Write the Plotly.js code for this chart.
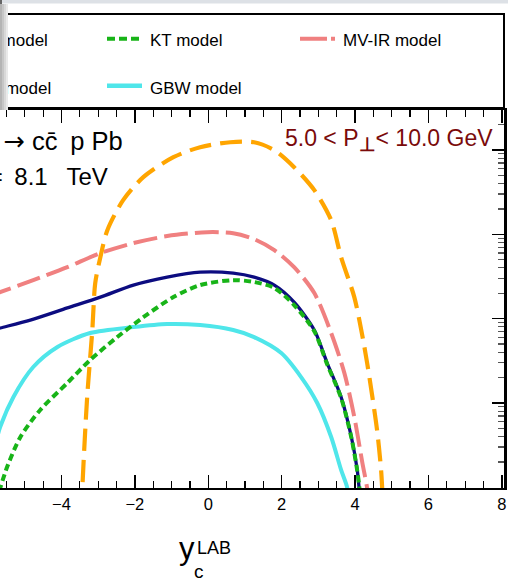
<!DOCTYPE html>
<html>
<head>
<meta charset="utf-8">
<script src="https://cdn.plot.ly/plotly-3.0.1.min.js"></script>
<style>html,body{margin:0;padding:0;background:#fff;}#chart{width:508px;height:580px;}</style>
</head>
<body>
<div id="chart"></div>
<script>
// ---- data ----
const xNavy = [-6.0, -5.67, -4.85, -3.84, -2.94, -2.04, -1.12, -0.22, 0.68, 1.25, 1.80, 2.34, 2.89, 3.24, 3.62, 3.90, 4.06, 4.11, 4.16];
const yNavy = [7.08, 7.74, 9.62, 13.4, 18.0, 25.0, 31.1, 35.6, 34.7, 31.1, 25.0, 15.7, 7.33, 2.98, 1.18, 0.395, 0.161, 0.098, 0.05];

const xKT = [-5.70, -5.48, -5.12, -4.58, -3.84, -3.22, -2.48, -1.77, -0.95, -0.22, 0.68, 1.25, 1.80, 2.34, 2.89, 3.24, 3.62, 3.90, 4.06, 4.12, 4.17];
const yKT = [0.089, 0.175, 0.395, 0.826, 1.73, 3.23, 6.05, 10.4, 18.0, 25.0, 28.6, 27.2, 23.1, 14.5, 7.08, 2.88, 1.15, 0.389, 0.158, 0.098, 0.05];

const xMVIR = [-6.0, -5.67, -4.77, -3.84, -2.94, -2.04, -1.12, -0.03, 0.68, 1.25, 1.80, 2.34, 2.89, 3.35, 3.71, 3.98, 4.20, 4.33, 4.40];
const yMVIR = [18.6, 20.7, 28.6, 40.8, 59.8, 78.7, 95.3, 106, 103, 87.7, 65.0, 40.8, 20.1, 6.75, 2.26, 0.682, 0.195, 0.098, 0.05];

const xGBW = [-5.95, -5.67, -5.31, -4.77, -4.11, -3.22, -2.04, -1.12, -0.22, 0.68, 1.25, 1.99, 2.53, 2.97, 3.35, 3.62, 3.79, 3.85];
const yGBW = [0.178, 0.52, 1.18, 2.67, 4.61, 6.75, 7.94, 8.63, 8.39, 7.33, 6.05, 3.91, 2.03, 1.0, 0.395, 0.161, 0.098, 0.05];

const xOrange = [-3.45, -3.43, -3.30, -3.16, -3.08, -2.94, -2.75, -2.32, -1.77, -0.95, -0.22, 0.60, 1.25, 1.80, 2.34, 2.89, 3.35, 3.62, 3.98, 4.17, 4.33, 4.60, 4.71, 4.74, 4.77];
const yOrange = [0.05, 0.101, 1.18, 7.33, 26.4, 53.7, 112, 254, 476, 822, 1079, 1236, 1236, 995, 625, 334, 147, 53.7, 18.0, 7.33, 2.98, 0.479, 0.161, 0.098, 0.05];

const xTickVals = [-4, -2, 0, 2, 4, 6, 8];
const legendNames = ["rcBK model", "KT model", "MV-IR model", "IP-Sat model", "GBW model"];
const processText = "p Pb <span style=\"font-family:DejaVu Sans\">\u2192</span> cc\u0304\u2002p Pb";
const energyText = "\u221As = \u20098.1\u2002\u2009\u200ATeV";
const ptText = "5.0 < P<sub><span style=\"font-size:19px\"><b>\u22A5</b></span></sub>< 10.0 GeV";

// ---- styling ----
const FONT = "Liberation Sans, Arial, Helvetica, sans-serif";
const C_NAVY = "#0c0c80", C_KT = "#18b418", C_MV = "#f08080", C_GBW = "#4fe6ea", C_OR = "#ffa500";

// plot area in pixels: x 0..504, y 110..488
const PX = p => p / 504;
const PY = p => (488 - p) / 378;

function tr(x, y, color, width, dash) {
  return {x: x, y: y, type: "scatter", mode: "lines", hoverinfo: "skip",
    line: {color: color, width: width, dash: dash, shape: "spline", smoothing: 0.8}};
}
const traces = [
  tr(xGBW, yGBW, C_GBW, 4, "solid"),
  tr(xMVIR, yMVIR, C_MV, 4, "24px,7px"),
  tr(xOrange, yOrange, C_OR, 4.2, "22px,9px"),
  tr(xNavy, yNavy, C_NAVY, 3.3, "solid"),
  tr(xKT, yKT, C_KT, 4, "7px,4px"),
];

const shapes = [
  {type: "rect", xref: "paper", yref: "paper", x0: PX(0), x1: PX(508), y0: PY(0), y1: PY(3.5), fillcolor: "#dde1e6", line: {width: 0}},
  {type: "rect", xref: "paper", yref: "paper", x0: PX(0), x1: PX(2), y0: PY(0), y1: PY(18), fillcolor: "#666666", line: {width: 0}},
  {type: "rect", xref: "paper", yref: "paper", x0: PX(-10), x1: PX(504), y0: PY(14), y1: PY(108), fillcolor: "rgba(0,0,0,0)", line: {color: "black", width: 2}},
  {type: "line", xref: "paper", yref: "paper", x0: PX(107), x1: PX(142), y0: PY(38.7), y1: PY(38.7), line: {color: C_KT, width: 4, dash: "8px,4px"}},
  {type: "line", xref: "paper", yref: "paper", x0: PX(300), x1: PX(335), y0: PY(38.7), y1: PY(38.7), line: {color: C_MV, width: 4, dash: "27px,4px"}},
  {type: "line", xref: "paper", yref: "paper", x0: PX(107), x1: PX(142), y0: PY(85.7), y1: PY(85.7), line: {color: C_GBW, width: 4.5}},
];

function txt(text, x, y, size, xanchor, color) {
  return {text: text, xref: "paper", yref: "paper", x: PX(x), y: PY(y), xanchor: xanchor, yanchor: "top",
    showarrow: false, borderpad: 0, font: {family: FONT, size: size, color: color || "black"}};
}
const annotations = [
  txt(legendNames[0], 48.5, 29.6, 17, "right"),
  txt(legendNames[1], 148.5, 29.6, 17, "left"),
  txt(legendNames[2], 342, 29.6, 17, "left"),
  txt(legendNames[3], 52, 77.9, 17, "right"),
  txt(legendNames[4], 148.5, 77.9, 17, "left"),
  txt(processText, 124, 124.5, 25.5, "right"),
  txt(energyText, 108.5, 161.6, 24, "right"),
  txt(ptText, 284, 124.2, 23, "left", "#7a0a0a"),
  txt("y", 178, 529.7, 31, "left"),
  txt("LAB", 195.7, 537.3, 18, "left"),
  txt("c", 192.5, 559.5, 19, "left"),
];
[["#b4b4b4", 1], ["#c6c6c6", 3], ["#d8d8d8", 5], ["#e9e9e9", 7]].forEach(function (g) {
  annotations.push({text: " ", xref: "paper", yref: "paper", x: PX(g[1]), y: PY(57), xanchor: "center", yanchor: "middle",
    width: 2, height: 106, bgcolor: g[0], borderpad: 0, borderwidth: 0, showarrow: false});
});

const layout = {
  width: 508, height: 580,
  margin: {l: 0, r: 4, t: 110, b: 92, pad: 0},
  paper_bgcolor: "white", plot_bgcolor: "white",
  showlegend: false,
  font: {family: FONT, color: "black"},
  xaxis: {
    range: [-5.676, 8.06], tickvals: xTickVals, ticks: "inside", ticklen: 13, tickwidth: 1.5, tickcolor: "black",
    minor: {dtick: 0.5, tick0: 0, ticks: "inside", ticklen: 7, tickwidth: 1.2, tickcolor: "black", showgrid: false},
    showline: true, linewidth: 2, linecolor: "black", mirror: "allticks",
    showgrid: false, zeroline: false, tickfont: {size: 16.5, family: FONT, color: "black"}
  },
  yaxis: {
    type: "log", range: [-1.008, 3.474], side: "right", dtick: 1, ticks: "inside", ticklen: 12, tickwidth: 1.5, tickcolor: "black",
    minor: {dtick: "D1", ticks: "inside", ticklen: 6, tickwidth: 1.2, tickcolor: "#555555", showgrid: false},
    showticklabels: false, showline: true, linewidth: 2.5, linecolor: "black", mirror: false,
    showgrid: false, zeroline: false
  },
  shapes: shapes,
  annotations: annotations
};

Plotly.newPlot("chart", traces, layout, {staticPlot: true, displayModeBar: false});
</script>
</body>
</html>
